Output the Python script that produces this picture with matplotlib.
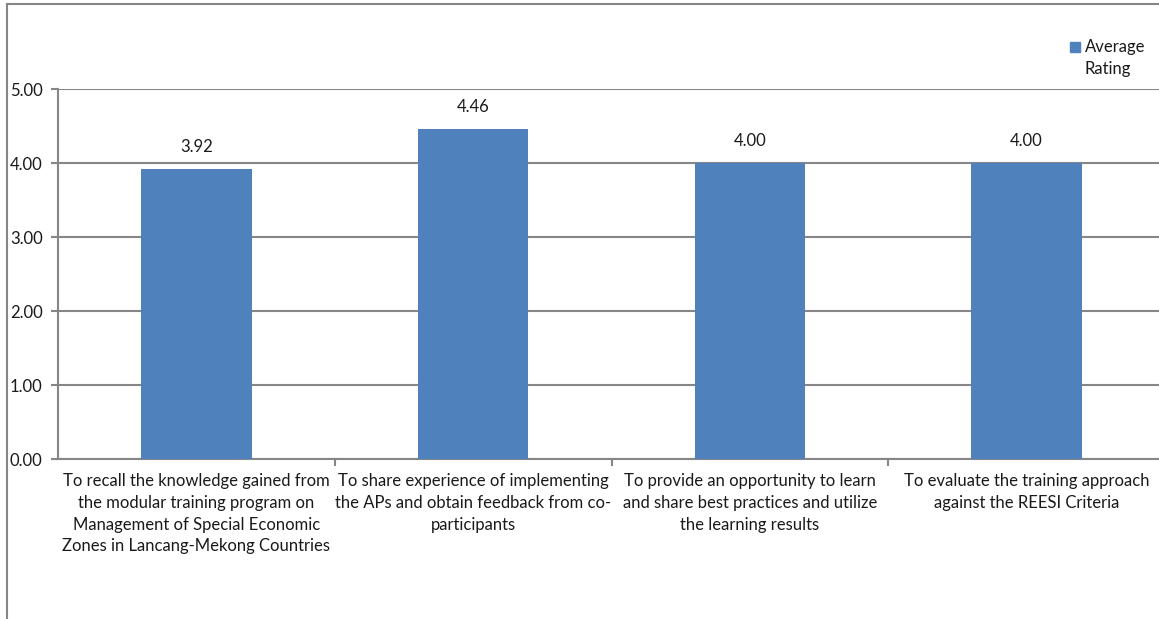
import matplotlib.pyplot as plt
from matplotlib.lines import Line2D
from matplotlib.patches import Rectangle
from matplotlib.legend_handler import HandlerPatch

# ---- Data ----
categories = [
    "To recall the knowledge gained from\nthe modular training program on\nManagement of Special Economic\nZones in Lancang-Mekong Countries",
    "To share experience of implementing\nthe APs and obtain feedback from co-\nparticipants",
    "To provide an opportunity to learn\nand share best practices and utilize\nthe learning results",
    "To evaluate the training approach\nagainst the REESI Criteria",
]
ratings = [3.92, 4.46, 4.00, 4.00]
series_name = "Average\nRating"
y_ticks = [0, 1, 2, 3, 4, 5]

BAR_COLOR = "#4F81BD"
GRID_COLOR = "#868686"
TEXT_COLOR = "#1a1a1a"
FS = 12
plt.rcParams['font.family'] = ['Lato', 'DejaVu Sans']

W, H = 1159, 619
fig = plt.figure(figsize=(W / 100, H / 100), dpi=100)

# axes box in pixels: left 58, right ~1165 (runs off the image), top 89, bottom 459
left, right, top, bottom = 58, 1165, 89, 459
ax = fig.add_axes([left / W, 1 - bottom / H, (right - left) / W, (bottom - top) / H])

x = list(range(len(categories)))
bars = ax.bar(x, ratings, width=0.4, color=BAR_COLOR, zorder=3)
for b, v in zip(bars, ratings):
    ax.annotate(f"{v:.2f}", (b.get_x() + b.get_width() / 2, v),
                xytext=(0, 10), textcoords="offset points",
                ha="center", va="bottom", fontsize=FS, color=TEXT_COLOR)

ax.set_xlim(-0.5, len(categories) - 0.5)
ax.set_ylim(0, 5)
ax.set_yticks(y_ticks)
ax.set_yticklabels([f"{t:.2f}" for t in y_ticks], fontsize=FS, color=TEXT_COLOR)
ax.yaxis.grid(True, color=GRID_COLOR, linewidth=1.5, zorder=0)

# category labels centred, tick marks on the boundaries
ax.set_xticks(x)
ax.set_xticklabels(categories, fontsize=FS, color=TEXT_COLOR, linespacing=1.45)
ax.tick_params(axis="x", length=0, pad=10)
ax.set_xticks([i + 0.5 for i in x[:-1]], minor=True)
ax.tick_params(axis="x", which="minor", length=5, width=1.5, color=GRID_COLOR)
ax.tick_params(axis="y", length=5, width=1.5, color=GRID_COLOR, pad=6)

for s in ["top", "right"]:
    ax.spines[s].set_visible(False)
for s in ["left", "bottom"]:
    ax.spines[s].set_color(GRID_COLOR)
    ax.spines[s].set_linewidth(1.5)


# legend: square sits beside the first line of the two-line label
def top_square(legend, orig_handle, xdescent, ydescent, width, height, fontsize):
    side = 0.6 * fontsize
    return Rectangle((-xdescent, -ydescent + 0.5 * height - side / 2 + 8.5), side, side)


handle = Rectangle((0, 0), 1, 1, color=BAR_COLOR)
leg = fig.legend([handle], [series_name], loc="upper left",
                 bbox_to_anchor=(1070 / W, 1 - 39 / H), frameon=False,
                 fontsize=FS, handlelength=0.6, handleheight=0.6, handletextpad=0.3,
                 borderpad=0, borderaxespad=0, labelspacing=0,
                 handler_map={Rectangle: HandlerPatch(patch_func=top_square)})
for t in leg.get_texts():
    t.set_linespacing(1.45)
    t.set_color(TEXT_COLOR)

# outer chart frame (top and left edges visible)
fig.add_artist(Line2D([7 / W, 1], [1 - 4 / H, 1 - 4 / H], color=GRID_COLOR, linewidth=1.5))
fig.add_artist(Line2D([7 / W, 7 / W], [0, 1 - 4 / H], color=GRID_COLOR, linewidth=1.5))

fig.savefig("out.png", dpi=100)
